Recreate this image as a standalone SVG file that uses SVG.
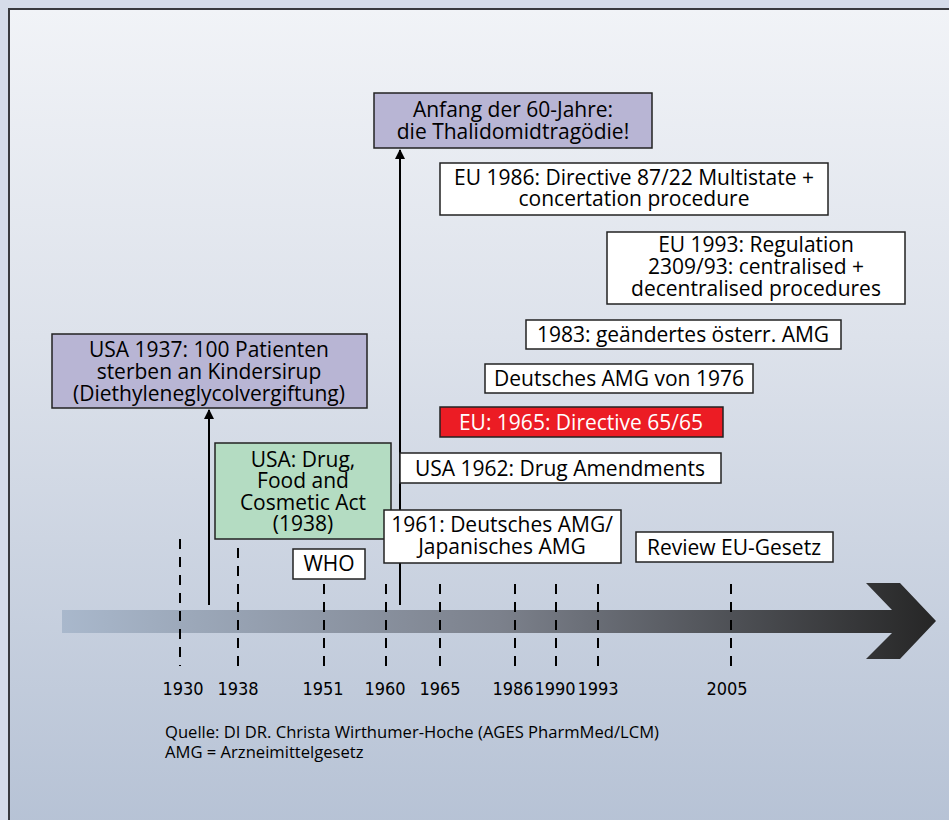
<svg xmlns="http://www.w3.org/2000/svg" width="949" height="820" viewBox="0 0 949 820">
<defs>
<linearGradient id="panel" x1="0" y1="0" x2="0" y2="1">
<stop offset="0" stop-color="#f1f3f7"/>
<stop offset="0.4" stop-color="#dde2eb"/>
<stop offset="1" stop-color="#b6c2d5"/>
</linearGradient>
<linearGradient id="bar" x1="62" y1="0" x2="936" y2="0" gradientUnits="userSpaceOnUse">
<stop offset="0" stop-color="#a9b8cc"/>
<stop offset="0.5" stop-color="#7c818c"/>
<stop offset="1" stop-color="#262626"/>
</linearGradient>
<marker id="ah" viewBox="0 0 10 10" refX="9" refY="5" markerWidth="5" markerHeight="5" orient="auto" markerUnits="strokeWidth">
<path d="M0,0 L10,5 L0,10 z" fill="#000"/>
</marker>
<style>
.t{font-family:"Open Sans","Liberation Sans",sans-serif;font-size:21px;fill:#000;text-anchor:middle}
.w{fill:#fff;stroke:#222;stroke-width:1.5}
.p{fill:#b8b5d4;stroke:#222;stroke-width:1.5}
.g{fill:#b4dcc2;stroke:#222;stroke-width:1.5}
.r{fill:#ec1c24;stroke:#222;stroke-width:1.5}
.d{stroke:#000;stroke-width:2;stroke-dasharray:10 8;fill:none}
.y{font-family:"DejaVu Sans Condensed","Liberation Sans",sans-serif;font-stretch:condensed;font-size:18px;fill:#000;text-anchor:middle}
.f{font-family:"Open Sans","Liberation Sans",sans-serif;font-size:16.6px;fill:#000}
</style>
</defs>
<rect x="0" y="0" width="949" height="820" fill="#d6dce9"/>
<rect x="9" y="9" width="950" height="820" fill="url(#panel)"/>
<path d="M9,820 L9,9 L949,9" fill="none" stroke="#3a3a3e" stroke-width="2"/>

<g id="timeline">
<polygon points="62,610 892,610 866,583 900,583 936,621 900,659 866,659 892,633 62,633" fill="url(#bar)"/>
</g>

<g id="ticks">
<line class="d" x1="180" y1="539" x2="180" y2="666"/>
<line class="d" x1="238" y1="548" x2="238" y2="668"/>
<line class="d" x1="324" y1="584" x2="324" y2="666"/>
<line class="d" x1="386" y1="584" x2="386" y2="666"/>
<line class="d" x1="440" y1="584" x2="440" y2="666"/>
<line class="d" x1="515" y1="584" x2="515" y2="666"/>
<line class="d" x1="556" y1="584" x2="556" y2="666"/>
<line class="d" x1="598" y1="584" x2="598" y2="666"/>
<line class="d" x1="731" y1="584" x2="731" y2="666"/>
</g>

<g id="years">
<text class="y" x="183" y="695">1930</text>
<text class="y" x="238" y="695">1938</text>
<text class="y" x="323" y="695">1951</text>
<text class="y" x="385" y="695">1960</text>
<text class="y" x="440" y="695">1965</text>
<text class="y" x="513" y="695">1986</text>
<text class="y" x="555" y="695">1990</text>
<text class="y" x="598" y="695">1993</text>
<text class="y" x="727" y="695">2005</text>
</g>

<g id="connectors">
<line x1="209" y1="605" x2="209" y2="410" stroke="#000" stroke-width="2" marker-end="url(#ah)"/>
<line x1="400" y1="605" x2="400" y2="150" stroke="#000" stroke-width="2" marker-end="url(#ah)"/>
</g>

<g id="n-usa1937">
<rect class="p" x="52" y="334" width="315" height="74"/>
<text class="t" x="209" y="357">USA 1937: 100 Patienten</text>
<text class="t" x="209" y="379">sterben an Kindersirup</text>
<text class="t" x="209" y="401">(Diethyleneglycolvergiftung)</text>
</g>

<g id="n-usa-drug">
<rect class="g" x="215" y="443" width="176" height="96"/>
<text class="t" x="303" y="467">USA: Drug,</text>
<text class="t" x="303" y="488">Food and</text>
<text class="t" x="303" y="510">Cosmetic Act</text>
<text class="t" x="303" y="531">(1938)</text>
</g>

<g id="n-who">
<rect class="w" x="293" y="549" width="72" height="30"/>
<text class="t" x="329" y="571">WHO</text>
</g>

<g id="n-anfang">
<rect class="p" x="374" y="93" width="278" height="55"/>
<text class="t" x="513" y="117">Anfang der 60-Jahre:</text>
<text class="t" x="513" y="139">die Thalidomidtragödie!</text>
</g>

<g id="n-eu1986">
<rect class="w" x="440" y="163" width="388" height="52"/>
<text class="t" x="634" y="185">EU 1986: Directive 87/22 Multistate +</text>
<text class="t" x="634" y="206">concertation procedure</text>
</g>

<g id="n-eu1993">
<rect class="w" x="607" y="232" width="298" height="72"/>
<text class="t" x="756" y="252">EU 1993: Regulation</text>
<text class="t" x="756" y="274">2309/93: centralised +</text>
<text class="t" x="756" y="296">decentralised procedures</text>
</g>

<g id="n-1983">
<rect class="w" x="526" y="320" width="315" height="29"/>
<text class="t" x="683" y="342">1983: geändertes österr. AMG</text>
</g>

<g id="n-1976">
<rect class="w" x="485" y="364" width="268" height="29"/>
<text class="t" x="619" y="386">Deutsches AMG von 1976</text>
</g>

<g id="n-eu1965">
<rect class="r" x="440" y="407" width="283" height="30"/>
<text class="t" x="581" y="430" style="fill:#fff">EU: 1965: Directive 65/65</text>
</g>

<g id="n-usa1962">
<rect class="w" x="400" y="453" width="321" height="30"/>
<text class="t" x="560" y="476">USA 1962: Drug Amendments</text>
</g>

<g id="n-1961">
<rect class="w" x="384" y="510" width="237" height="53"/>
<text class="t" x="502" y="532">1961: Deutsches AMG/</text>
<text class="t" x="502" y="554">Japanisches AMG</text>
</g>

<g id="n-review">
<rect class="w" x="636" y="532" width="197" height="30"/>
<text class="t" x="734" y="555">Review EU-Gesetz</text>
</g>

<g id="footnote">
<text class="f" x="165" y="738">Quelle: DI DR. Christa Wirthumer-Hoche (AGES PharmMed/LCM)</text>
<text class="f" x="165" y="758">AMG = Arzneimittelgesetz</text>
</g>
</svg>
